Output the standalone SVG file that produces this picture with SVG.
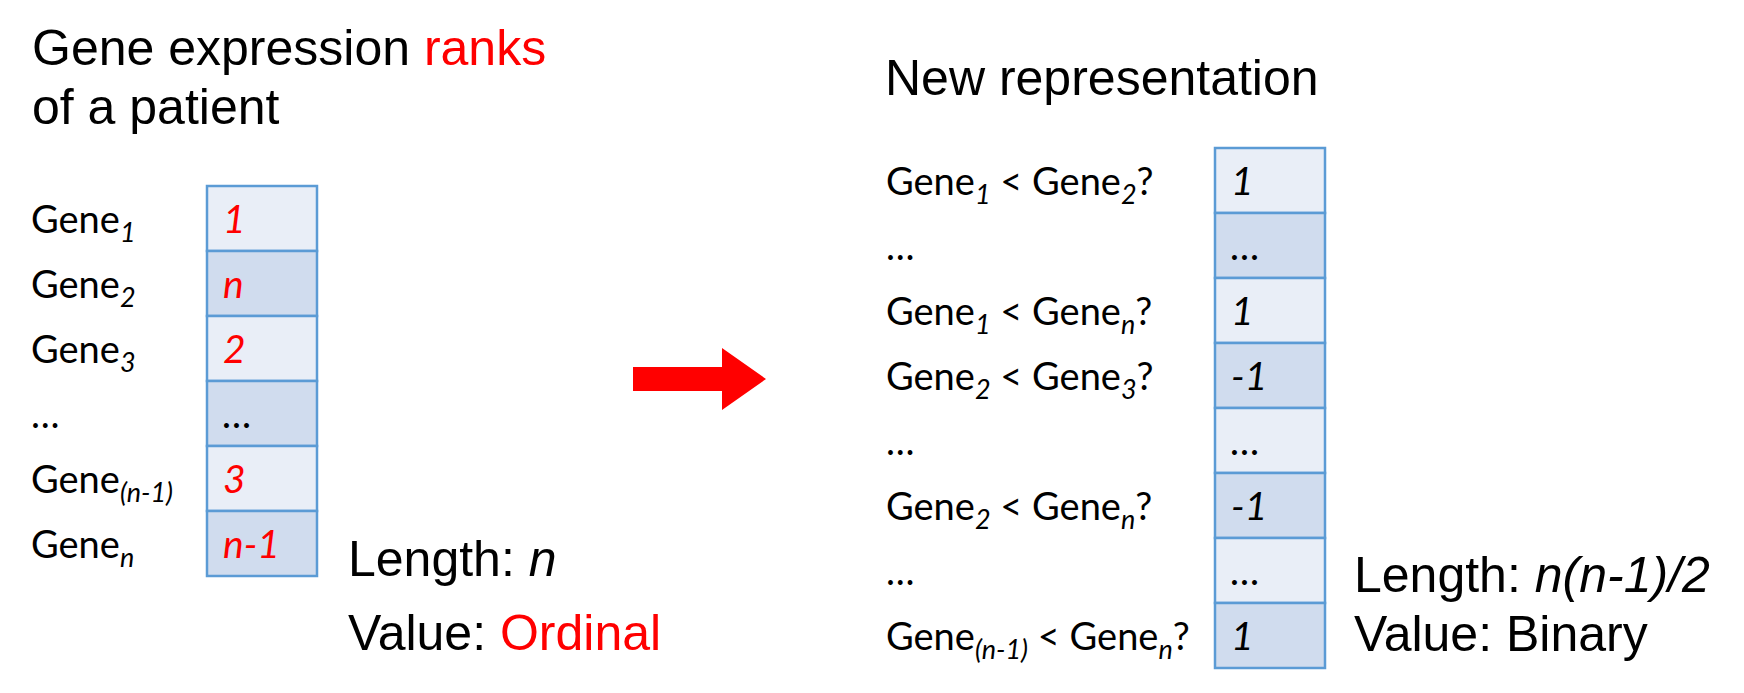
<svg xmlns="http://www.w3.org/2000/svg" width="1744" height="693" viewBox="0 0 1744 693">
<style>
.t{font-family:"Liberation Sans",Arial,sans-serif;font-size:50px;fill:#000}
.red{fill:#FF0000}
.lb{font-family:Lato,"Open Sans",sans-serif;font-size:38px;fill:#000}
.sub{font-size:27px;font-style:italic}
.v{font-family:Lato,"Open Sans",sans-serif;font-size:39px;font-style:italic;fill:#000}
.vr{fill:#FF0000}
.c1{fill:#E9EEF7;stroke:#5B9BD5;stroke-width:2.5}
.c2{fill:#D0DCEE;stroke:#5B9BD5;stroke-width:2.5}
</style>
<rect width="1744" height="693" fill="#FFFFFF"/>

<g id="title-left">
<text class="t" x="32" y="65">Gene expression <tspan class="red">ranks</tspan></text>
<text class="t" x="32" y="124">of a patient</text>
</g>

<g id="left-labels">
<text class="lb" x="31" y="233">Gene<tspan class="sub" dy="9">1</tspan></text>
<text class="lb" x="31" y="298">Gene<tspan class="sub" dy="9">2</tspan></text>
<text class="lb" x="31" y="363">Gene<tspan class="sub" dy="9">3</tspan></text>
<text class="lb" x="31" y="428">…</text>
<text class="lb" x="31" y="493">Gene<tspan class="sub" dy="9">(n-1)</tspan></text>
<text class="lb" x="31" y="558">Gene<tspan class="sub" dy="9">n</tspan></text>
</g>

<g id="left-vector">
<rect class="c1" x="207" y="186" width="110" height="65"/>
<rect class="c2" x="207" y="251" width="110" height="65"/>
<rect class="c1" x="207" y="316" width="110" height="65"/>
<rect class="c2" x="207" y="381" width="110" height="65"/>
<rect class="c1" x="207" y="446" width="110" height="65"/>
<rect class="c2" x="207" y="511" width="110" height="65"/>
<text class="v vr" x="223" y="233">1</text>
<text class="v vr" x="223" y="298">n</text>
<text class="v vr" x="223" y="363">2</text>
<text class="v" x="223" y="428">…</text>
<text class="v vr" x="223" y="493">3</text>
<text class="v vr" x="223" y="558">n-1</text>
</g>

<g id="left-info">
<text class="t" x="348" y="576">Length: <tspan font-style="italic">n</tspan></text>
<text class="t" x="348" y="650">Value: <tspan class="red">Ordinal</tspan></text>
</g>

<g id="connectors">
<polygon points="633,367 722,367 722,348 766,379 722,410 722,391 633,391" fill="#FF0000"/>
</g>

<g id="title-right">
<text class="t" x="885" y="95">New representation</text>
</g>

<g id="right-labels">
<text class="lb" x="886" y="195">Gene<tspan class="sub" dy="9">1</tspan><tspan dy="-9"> &lt; Gene</tspan><tspan class="sub" dy="9">2</tspan><tspan dy="-9">?</tspan></text>
<text class="lb" x="886" y="260">…</text>
<text class="lb" x="886" y="325">Gene<tspan class="sub" dy="9">1</tspan><tspan dy="-9"> &lt; Gene</tspan><tspan class="sub" dy="9">n</tspan><tspan dy="-9">?</tspan></text>
<text class="lb" x="886" y="390">Gene<tspan class="sub" dy="9">2</tspan><tspan dy="-9"> &lt; Gene</tspan><tspan class="sub" dy="9">3</tspan><tspan dy="-9">?</tspan></text>
<text class="lb" x="886" y="455">…</text>
<text class="lb" x="886" y="520">Gene<tspan class="sub" dy="9">2</tspan><tspan dy="-9"> &lt; Gene</tspan><tspan class="sub" dy="9">n</tspan><tspan dy="-9">?</tspan></text>
<text class="lb" x="886" y="585">…</text>
<text class="lb" x="886" y="650">Gene<tspan class="sub" dy="9">(n-1)</tspan><tspan dy="-9"> &lt; Gene</tspan><tspan class="sub" dy="9">n</tspan><tspan dy="-9">?</tspan></text>
</g>

<g id="right-vector">
<rect class="c1" x="1215" y="148" width="110" height="65"/>
<rect class="c2" x="1215" y="213" width="110" height="65"/>
<rect class="c1" x="1215" y="278" width="110" height="65"/>
<rect class="c2" x="1215" y="343" width="110" height="65"/>
<rect class="c1" x="1215" y="408" width="110" height="65"/>
<rect class="c2" x="1215" y="473" width="110" height="65"/>
<rect class="c1" x="1215" y="538" width="110" height="65"/>
<rect class="c2" x="1215" y="603" width="110" height="65"/>
<text class="v" x="1231" y="195">1</text>
<text class="v" x="1231" y="260">…</text>
<text class="v" x="1231" y="325">1</text>
<text class="v" x="1231" y="390">-1</text>
<text class="v" x="1231" y="455">…</text>
<text class="v" x="1231" y="520">-1</text>
<text class="v" x="1231" y="585">…</text>
<text class="v" x="1231" y="650">1</text>
</g>

<g id="right-info">
<text class="t" x="1354" y="592">Length: <tspan font-style="italic">n(n-1)/2</tspan></text>
<text class="t" x="1354" y="651">Value: Binary</text>
</g>
</svg>
